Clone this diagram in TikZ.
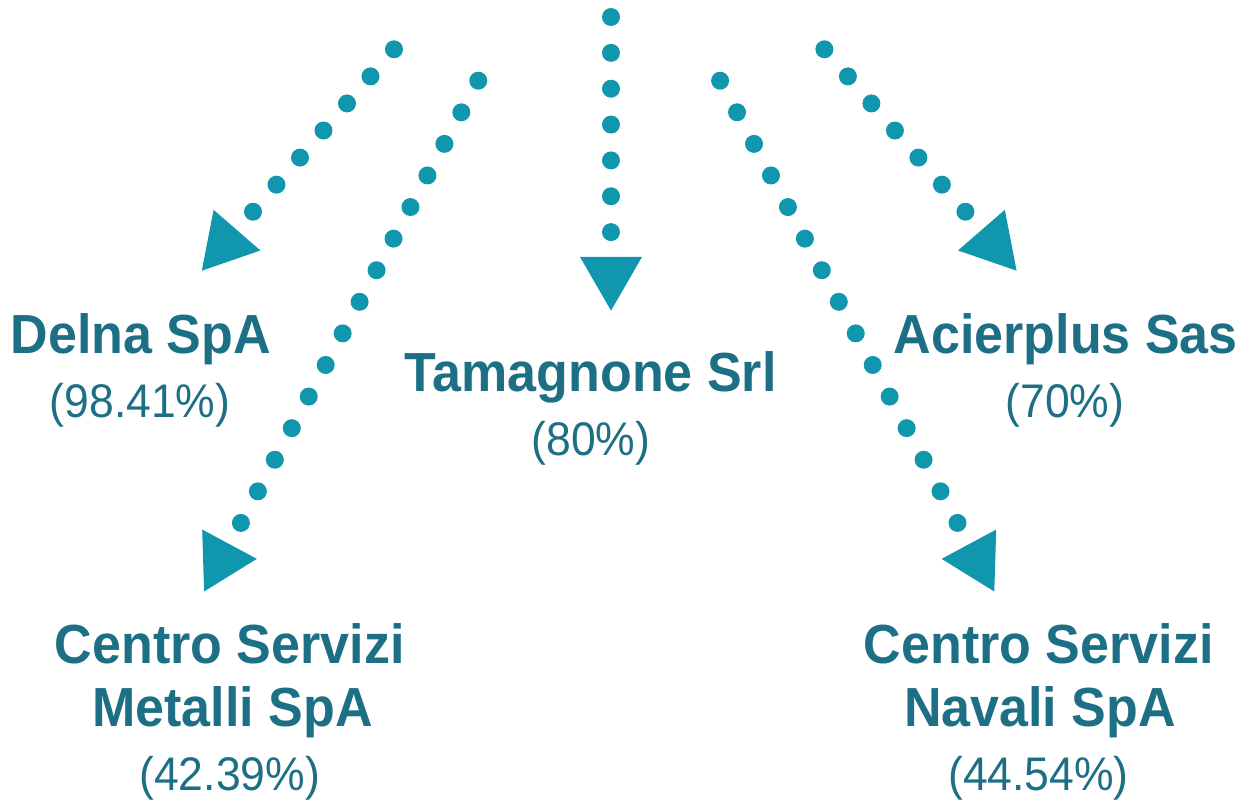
\documentclass[tikz,border=0pt]{standalone}
\usepackage{fontspec}
\usepackage{graphicx}
\setmainfont{Liberation Sans}
\usetikzlibrary{arrows.meta}
\definecolor{arrowc}{HTML}{1096AD}
\definecolor{textc}{HTML}{1D6F85}
\newcommand\tallTxt[1]{\scalebox{1}[1.06]{#1}}
\begin{document}
\begin{tikzpicture}[x=1pt,y=-1pt,
  conn/.style={draw=arrowc, line width=18pt, line cap=round,
    dash pattern=on 0pt off 35.85pt,
    -{Triangle[width=62pt,length=53.7pt,line width=0pt,fill=arrowc]}},
  cname/.style={anchor=base, inner sep=0pt, text=textc,
    font=\fontsize{52}{60}\selectfont\bfseries},
  cpct/.style={anchor=base, inner sep=0pt, text=textc,
    font=\fontsize{44.5}{50}\selectfont}]
\useasboundingbox (0,0) rectangle (1254,803);

% labels
\node[cname] (delna) at (140.8,353.2) {\tallTxt{Delna SpA}};
\node[cpct] (delnaP) at (140,417.4) {\tallTxt{(98.41\%)}};
\node[cname] (tam) at (590.8,391) {\tallTxt{Tamagnone Srl}};
\node[cpct] (tamP) at (590.8,455.5) {\tallTxt{(80\%)}};
\node[cname] (acier) at (1065.7,353.5) {\tallTxt{Acierplus Sas}};
\node[cpct] (acierP) at (1065,417.4) {\tallTxt{(70\%)}};
\node[cname] (csmA) at (229.7,663.3) {\tallTxt{Centro Servizi}};
\node[cname] (csmB) at (232.5,726) {\tallTxt{Metalli SpA}};
\node[cpct] (csmP) at (229.7,790) {\tallTxt{(42.39\%)}};
\node[cname] (csnA) at (1038.8,663.3) {\tallTxt{Centro Servizi}};
\node[cname] (csnB) at (1040,726) {\tallTxt{Navali SpA}};
\node[cpct] (csnP) at (1038.5,790) {\tallTxt{(44.54\%)}};

% connector end points
\coordinate (s1) at (394,49.3);    \coordinate (t1) at (201.8,270.7);
\coordinate (s2) at (478.3,80.7);  \coordinate (t2) at (204.1,591.5);
\coordinate (s3) at (611,17);      \coordinate (t3) at (611,310.6);
\coordinate (s4) at (720.1,80.7);  \coordinate (t4) at (994.3,591.5);
\coordinate (s5) at (824.4,49.3);  \coordinate (t5) at (1016.6,270.7);

\draw[conn] (s1) -- (t1);
\draw[conn] (s2) -- (t2);
\draw[conn] (s3) -- (t3);
\draw[conn] (s4) -- (t4);
\draw[conn] (s5) -- (t5);
\end{tikzpicture}
\end{document}
